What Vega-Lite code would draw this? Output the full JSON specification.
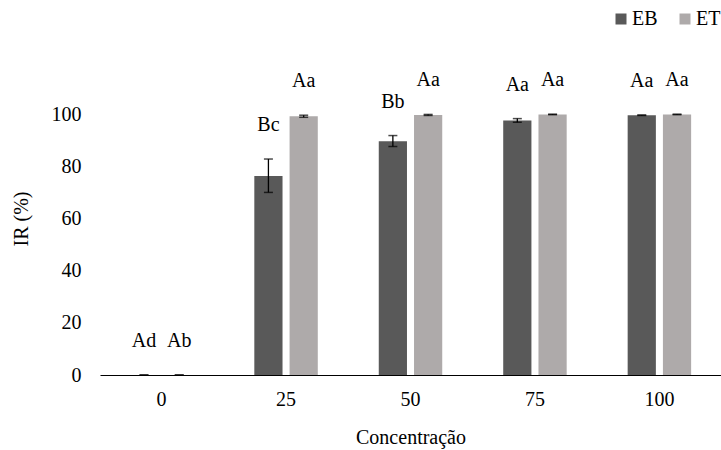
{
  "$schema": "https://vega.github.io/schema/vega-lite/v6.json",
  "width": 621,
  "height": 313,
  "autosize": {"type": "none"},
  "padding": {"left": 100, "top": 62, "right": 0, "bottom": 75},
  "config": {
    "font": "serif",
    "view": {"stroke": null},
    "text": {"font": "serif"},
    "axis": {"labelFont": "serif", "titleFont": "serif", "labelFontSize": 20, "titleFontSize": 20, "titleFontWeight": "normal", "labelColor": "#000000", "titleColor": "#000000", "grid": false, "ticks": false},
    "legend": {"labelFont": "serif", "labelFontSize": 20, "labelColor": "#000000"}
  },
  "data": {
    "values": [
      {"conc": "0", "grp": "EB", "value": 0, "lo": 0, "hi": 0, "label": "Ad"},
      {"conc": "0", "grp": "ET", "value": 0, "lo": 0, "hi": 0, "label": "Ab"},
      {"conc": "25", "grp": "EB", "value": 76.3, "lo": 70.0, "hi": 82.8, "label": "Bc"},
      {"conc": "25", "grp": "ET", "value": 99.2, "lo": 98.8, "hi": 99.6, "label": "Aa"},
      {"conc": "50", "grp": "EB", "value": 89.6, "lo": 87.6, "hi": 91.8, "label": "Bb"},
      {"conc": "50", "grp": "ET", "value": 99.7, "lo": 99.5, "hi": 99.9, "label": "Aa"},
      {"conc": "75", "grp": "EB", "value": 97.6, "lo": 96.9, "hi": 98.3, "label": "Aa"},
      {"conc": "75", "grp": "ET", "value": 99.9, "lo": 99.8, "hi": 100, "label": "Aa"},
      {"conc": "100", "grp": "EB", "value": 99.6, "lo": 99.5, "hi": 99.7, "label": "Aa"},
      {"conc": "100", "grp": "ET", "value": 99.9, "lo": 99.8, "hi": 100, "label": "Aa"}
    ]
  },
  "encoding": {
    "x": {
      "field": "conc", "type": "ordinal", "sort": ["0", "25", "50", "75", "100"],
      "scale": {"paddingInner": 0.49, "paddingOuter": 0.24},
      "axis": {"title": "Concentração", "labelAngle": 0, "labelPadding": 14, "titlePadding": 18, "domainColor": "#000000", "domainWidth": 1}
    },
    "xOffset": {"field": "grp", "type": "nominal", "sort": ["EB", "ET"], "scale": {"paddingInner": 0.2}}
  },
  "layer": [
    {
      "mark": {"type": "bar"},
      "encoding": {
        "y": {"field": "value", "type": "quantitative", "scale": {"domain": [0, 120]},
          "axis": {"title": "IR (%)", "values": [0, 20, 40, 60, 80, 100], "domain": false, "labelPadding": 19, "titlePadding": 20}},
        "color": {"field": "grp", "type": "nominal", "scale": {"domain": ["EB", "ET"], "range": ["#595959", "#AEAAAA"]},
          "legend": {"title": null, "orient": "none", "legendX": 511, "legendY": -53, "direction": "horizontal", "symbolType": "square", "symbolSize": 121, "symbolStrokeWidth": 0, "labelOffset": 1, "columnPadding": 17}}
      }
    },
    {
      "mark": {"type": "rule", "color": "#000000", "strokeWidth": 1.3},
      "encoding": {"y": {"field": "lo", "type": "quantitative"}, "y2": {"field": "hi"}}
    },
    {
      "mark": {"type": "tick", "color": "#000000", "size": 9, "thickness": 1.5},
      "encoding": {"y": {"field": "lo", "type": "quantitative"}}
    },
    {
      "mark": {"type": "tick", "color": "#000000", "size": 9, "thickness": 1.5},
      "encoding": {"y": {"field": "hi", "type": "quantitative"}}
    },
    {
      "mark": {"type": "text", "fontSize": 20, "dy": -34, "color": "#000000", "baseline": "middle"},
      "encoding": {"y": {"field": "hi", "type": "quantitative"}, "text": {"field": "label"}}
    }
  ]
}
